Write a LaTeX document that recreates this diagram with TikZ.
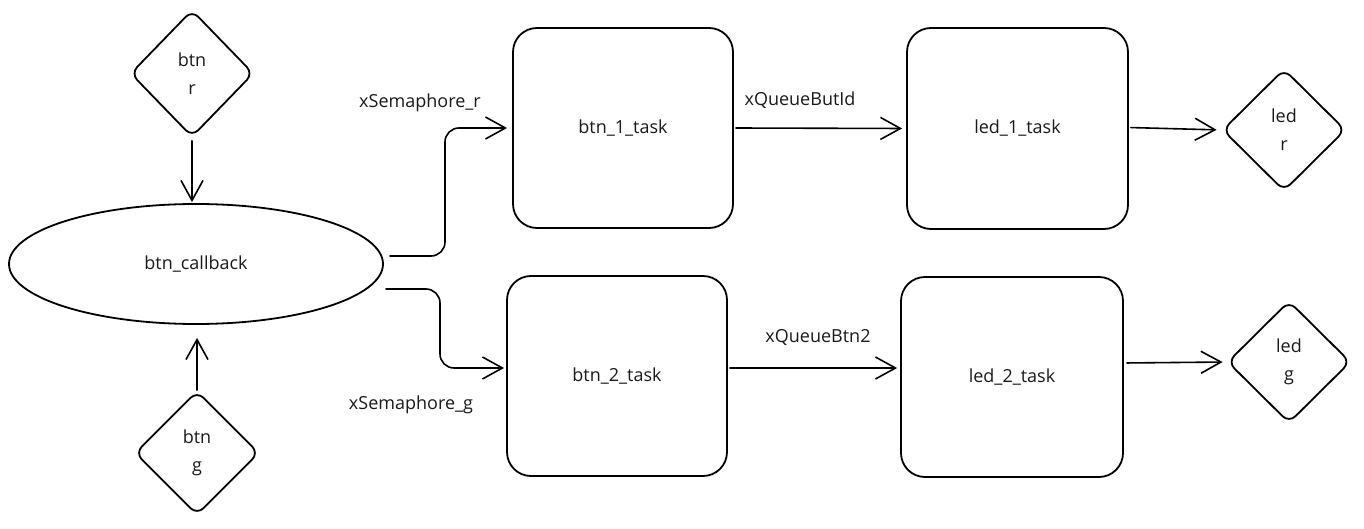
\documentclass[tikz,border=0pt]{standalone}
\usepackage{fontspec}
\setmainfont{Open Sans}
\usetikzlibrary{shapes.geometric,arrows.meta,calc}
\begin{document}
\begin{tikzpicture}[x=1pt,y=-1pt,
  every node/.style={font=\fontsize{18}{28}\selectfont, text=black!90},
  dia/.style={draw, diamond, line width=1.8pt, rounded corners=9pt, inner sep=0pt, align=center},
  ell/.style={draw, ellipse, line width=1.8pt, inner sep=0pt},
  box/.style={draw, rectangle, line width=1.8pt, rounded corners=24pt, inner sep=0pt},
  arr/.style={line width=1.6pt, -{Straight Barb[length=20pt,width=22pt,line width=1.6pt]}, line cap=round},
  lbl/.style={inner sep=0pt}]
\useasboundingbox (0,0) rectangle (1364,529);
% nodes
\node[dia, minimum width=123pt, minimum height=127pt] (btnr) at (192,73.5) {btn\\r};
\node[dia, minimum width=124pt, minimum height=124pt] (btng) at (197,453) {btn\\g};
\node[ell, minimum width=374pt, minimum height=120pt] (cb) at (196,264) {btn\_callback};
\node[box, minimum width=220pt, minimum height=200pt] (b1) at (623,128) {btn\_1\_task};
\node[box, minimum width=221pt, minimum height=201pt] (l1) at (1017.5,128.5) {led\_1\_task};
\node[box, minimum width=220pt, minimum height=200pt] (b2) at (617,376) {btn\_2\_task};
\node[box, minimum width=222pt, minimum height=200pt] (l2) at (1012,377) {led\_2\_task};
\node[dia, minimum width=123pt, minimum height=122pt] (ledr) at (1284,130) {led\\r};
\node[dia, minimum width=123pt, minimum height=122pt] (ledg) at (1289,362) {led\\g};
% labels
\node[lbl] (lsr) at (420,103) {xSemaphore\_r};
\node[lbl] (lsg) at (411,405) {xSemaphore\_g};
\node[lbl] (lq1) at (800,100) {xQueueButId};
\node[lbl] (lq2) at (818,338) {xQueueBtn2};
% connectors
\draw[arr, shorten <=3pt, shorten >=1pt] (btnr.south) -- (btnr.south |- cb.north);
\draw[arr, shorten <=0pt, shorten >=13pt] (btng.north) -- (btng.north |- cb.south);
\coordinate (s1) at ($(cb.east)+(6,-8)$);
\coordinate (s2) at ($(cb.east)+(2,25)$);
\draw[arr, rounded corners=14pt, shorten >=5pt] (s1) -- (445,256) -- (445,128) -- (b1.west);
\draw[arr, rounded corners=14pt, shorten >=2pt] (s2) -- (440,289) -- (440,368) -- ($(b2.west)+(0,-8)$);
\draw[arr, shorten <=2pt, shorten >=4pt] (b1.east) -- (l1.west);
\draw[arr, shorten <=2pt, shorten >=3pt] ($(b2.east)+(0,-8)$) -- ($(l2.west)+(0,-9)$);
\draw[arr, shorten <=2pt, shorten >=5pt] ($(l1.east)+(0,-1)$) -- (ledr.west);
\draw[arr, shorten <=3pt, shorten >=4pt] ($(l2.east)+(0,-14)$) -- (ledg.west);
\end{tikzpicture}
\end{document}
